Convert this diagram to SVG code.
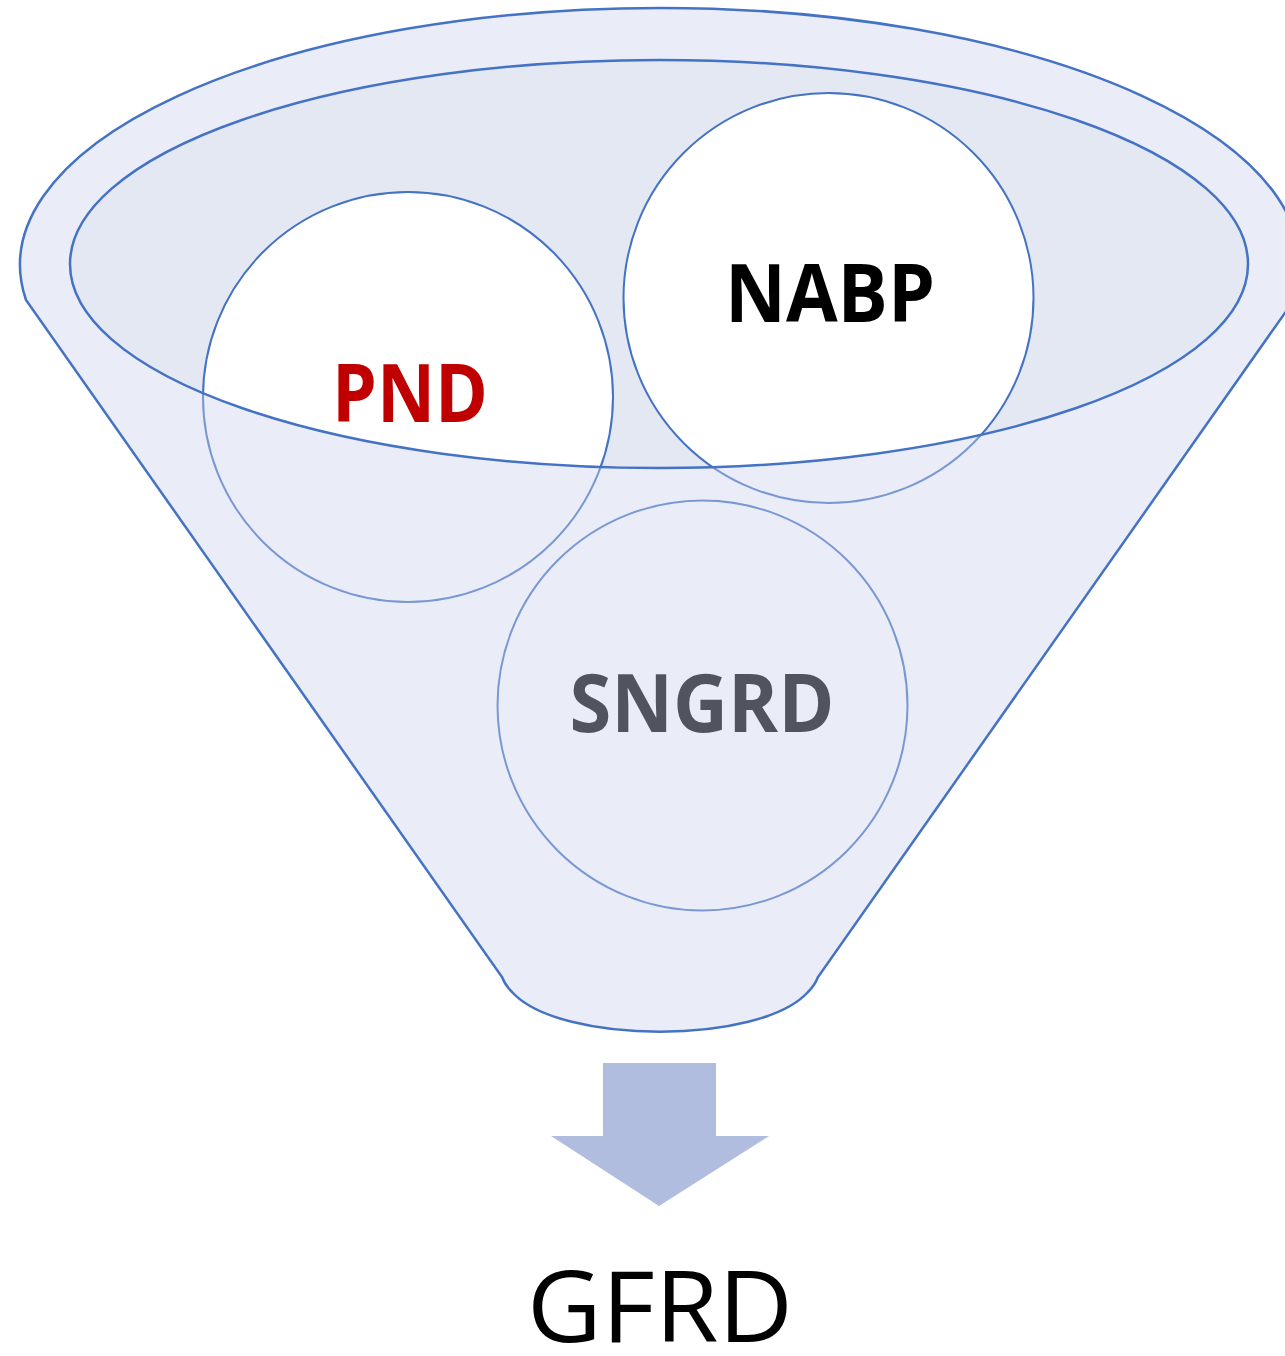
<svg xmlns="http://www.w3.org/2000/svg" width="1285" height="1356" viewBox="0 0 1285 1356">
  <style>
    .back { fill: #E4E8F3; stroke: none; }
    .circle { fill: #FFFFFF; stroke: #4472C4; stroke-width: 2; }
    .body { fill: #CAD2EA; fill-opacity: 0.4; fill-rule: evenodd; stroke: none; }
    .outline { fill: none; stroke: #4472C4; stroke-width: 2.5; }
    .lbl { font-family: "Open Sans", "Liberation Sans", sans-serif; font-weight: bold; font-size: 80px; text-anchor: middle; }
    .out { font-family: "Open Sans", "Liberation Sans", sans-serif; font-size: 98px; text-anchor: middle; fill: #000000; }
    .arrow { fill: #B0BDDF; stroke: none; }
  </style>
  <rect width="1285" height="1356" fill="#FFFFFF"/>
  <g id="funnel-back">
    <path class="body" d="M26,300 A640,257 0 1 1 1294,300 L818,977 Q815,985 808,992 C760,1045 560,1045 512,992 Q505,985 502,977 Z" fill-opacity="1" style="fill:#FFFFFF;fill-opacity:1"/>
    <ellipse class="back" cx="659" cy="264" rx="589" ry="204"/>
  </g>
  <g id="node-pnd">
    <circle class="circle" cx="408" cy="397" r="205"/>
    <text class="lbl" x="410" y="422" fill="#C00000" textLength="156" lengthAdjust="spacingAndGlyphs">PND</text>
  </g>
  <g id="node-nabp">
    <circle class="circle" cx="828.5" cy="298" r="205"/>
    <text class="lbl" x="830" y="322" fill="#000000" textLength="210" lengthAdjust="spacingAndGlyphs">NABP</text>
  </g>
  <g id="node-sngrd">
    <circle class="circle" cx="702.5" cy="705.5" r="205"/>
    <text class="lbl" x="702" y="732" fill="#000000" textLength="265" lengthAdjust="spacingAndGlyphs">SNGRD</text>
  </g>
  <g id="funnel-front">
    <path class="body" d="M26,300 A640,257 0 1 1 1294,300 L818,977 Q815,985 808,992 C760,1045 560,1045 512,992 Q505,985 502,977 Z M70,264 A589,204 0 1 0 1248,264 A589,204 0 1 0 70,264 Z"/>
    <path class="outline" d="M26,300 A640,257 0 1 1 1294,300 L818,977 Q815,985 808,992 C760,1045 560,1045 512,992 Q505,985 502,977 Z"/>
    <ellipse class="outline" cx="659" cy="264" rx="589" ry="204"/>
  </g>
  <g id="connectors">
    <path class="arrow" d="M603,1063 L716,1063 L716,1136 L769,1136 L659,1206 L551,1136 L603,1136 Z"/>
  </g>
  <g id="node-gfrd">
    <text class="out" x="660" y="1342" textLength="266" lengthAdjust="spacingAndGlyphs">GFRD</text>
  </g>
</svg>
